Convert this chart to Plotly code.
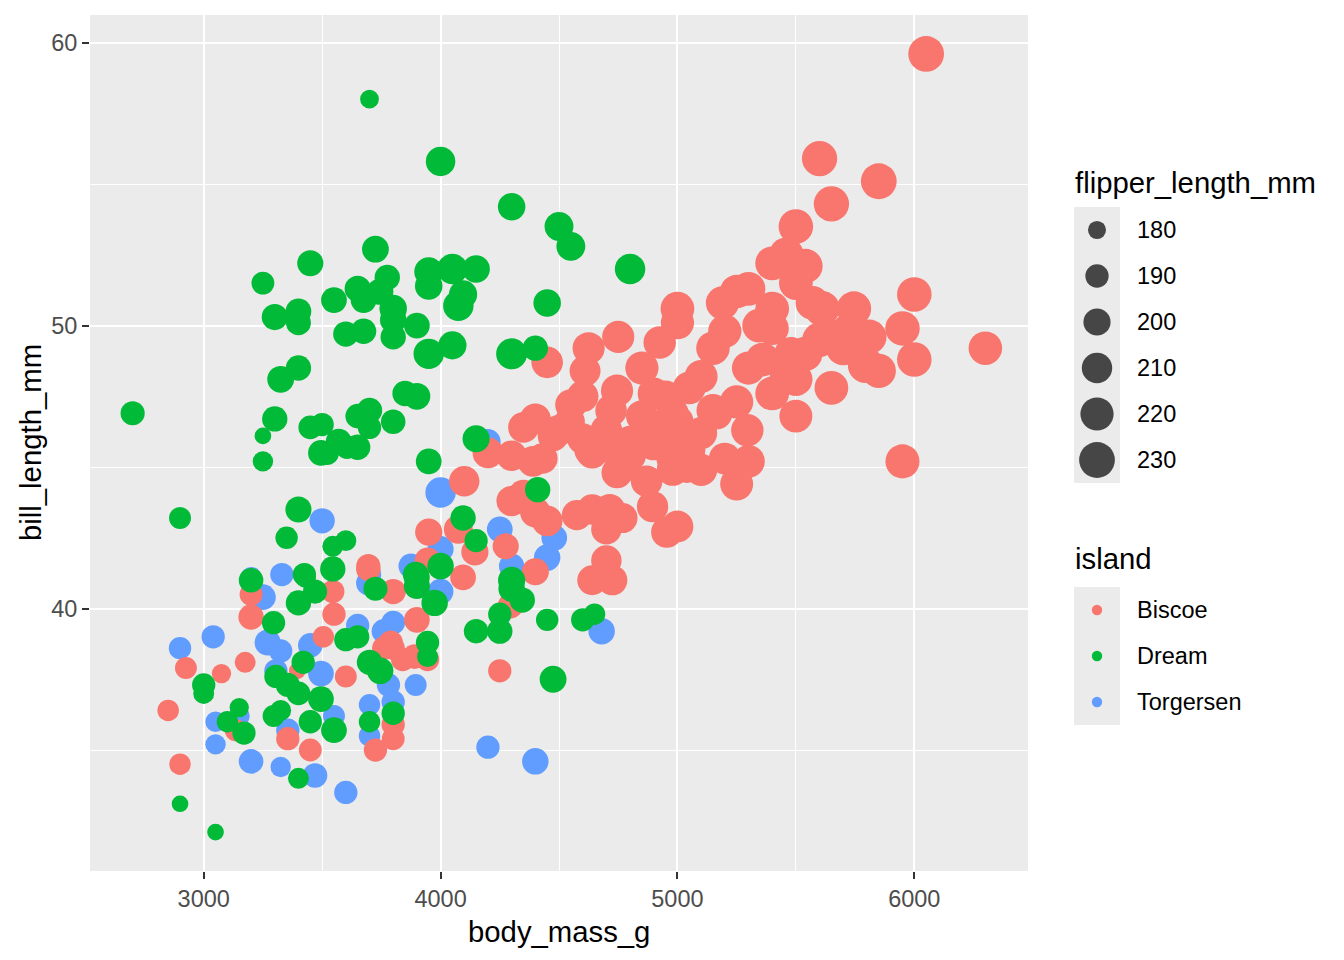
import numpy as np
import plotly.graph_objects as go

# penguins: body_mass_g, bill_length_mm, flipper_length_mm
biscoe_mass = [3950, 4075, 4145, 4275, 4400, 3945, 3695, 4095, 3800, 3900, 3790, 3890, 3545, 3695,
               3200, 3200, 3945, 3800, 3840, 3760, 3600, 3550, 3505, 2925, 3075, 3175, 3395, 3800,
               3800, 3725, 3355, 3450, 3135, 2850, 2900, 4250, 4295, 4100,
               4200, 4300, 4390, 4350, 4400, 4475, 4430, 4300, 4350, 4400, 4450, 4500, 4545, 4600,
               4640, 4755, 4980, 4450, 4630, 4745, 4800, 4745, 4800, 4870, 4895, 4955, 5000, 4575,
               4640, 4714, 4768, 4700, 4700, 4640, 4725, 4750, 4850, 4925, 4625, 4610, 4600, 4745,
               4720, 4950, 4900, 4850, 4880, 4980, 5000, 5100, 5010, 5150, 5100, 5040, 4980, 5300,
               5200, 5250, 5295, 5250, 5165, 5150, 5100, 5300, 5360, 5500, 5400, 5650, 5500, 5950,
               5540, 5640, 5725, 5810, 5795, 5850, 5950, 6000, 6300, 5345, 5400, 5000, 5000, 5190,
               5250, 5300, 5400, 5570, 5610, 5745, 6000, 5400, 5460, 5540, 5500, 5500, 5650, 5850,
               5600, 6050, 5480, 5460, 5200, 5600, 5700, 4900, 5050, 4700, 5050, 4550]
biscoe_bill = [42.7, 42.8, 42.0, 42.2, 41.3, 41.7, 41.5, 41.1, 40.6, 39.6, 38.8, 38.3, 40.6, 41.4,
               40.5, 39.7, 38.2, 38.6, 38.2, 38.6, 37.6, 39.8, 39.0, 37.9, 37.7, 38.1, 37.8, 35.9,
               35.4, 35.0, 35.4, 35.0, 35.7, 36.4, 34.5, 37.8, 40.1, 44.5,
               45.5, 45.4, 45.2, 46.4, 46.7, 46.1, 45.3, 43.8, 44.0, 43.4, 43.1, 46.3, 46.6, 46.0,
               45.5, 44.9, 44.9, 48.7, 45.6, 45.5, 45.4, 44.8, 45.9, 44.5, 43.6, 42.7, 42.9, 43.3,
               43.5, 43.5, 43.2, 42.8, 41.7, 41.0, 41.0, 49.6, 48.5, 49.4, 49.2, 48.4, 47.5, 47.7,
               47.0, 47.5, 47.6, 46.8, 46.3, 46.9, 46.6, 46.2, 46.0, 47.0, 44.9, 45.0, 45.3, 45.2,
               45.3, 44.4, 46.3, 47.3, 46.9, 49.2, 48.2, 48.5, 48.8, 48.1, 47.6, 47.8, 46.8, 45.2,
               49.0, 49.6, 49.8, 49.6, 48.6, 48.4, 49.9, 48.8, 49.2, 50.0, 49.9, 50.6, 50.1, 50.8,
               51.2, 51.3, 50.6, 50.8, 50.6, 50.6, 51.1, 52.2, 52.5, 52.1, 51.5, 53.5, 54.3, 55.1,
               55.9, 59.6, 49.0, 48.3, 49.8, 49.5, 49.2, 45.8, 45.6, 46.3, 47.8, 47.2]
biscoe_flipper = [200, 205, 200, 197, 200, 196, 192, 196, 195, 196, 192, 193, 190, 193,
                  189, 195, 190, 190, 190, 190, 187, 190, 186, 187, 182, 185, 178, 190,
                  189, 190, 190, 189, 187, 186, 186, 190, 195, 210,
                  211, 210, 211, 211, 212, 211, 210, 210, 212, 210, 211, 212, 210, 212,
                  213, 212, 215, 214, 212, 211, 214, 212, 214, 214, 213, 213, 215, 209,
                  210, 212, 209, 210, 210, 208, 209, 216, 220, 217, 216, 212, 214, 216,
                  214, 215, 216, 215, 217, 215, 217, 216, 218, 219, 216, 215, 217, 218,
                  215, 219, 217, 220, 216, 221, 219, 220, 222, 220, 222, 222, 219, 223,
                  224, 228, 229, 225, 230, 224, 225, 225, 221, 222, 220, 222, 220, 220,
                  221, 222, 222, 222, 228, 225, 225, 222, 225, 225, 222, 225, 228, 230,
                  228, 230, 221, 220, 220, 225, 224, 215, 216, 214, 218, 213]

dream_mass = [3700, 4000, 4300, 4500, 4550, 4800, 3725, 3450, 3250, 3950, 4050, 4150, 3950, 3775,
              3650, 3745, 3675, 3550, 3800, 4075, 4095, 4450, 3300, 3400, 3400, 3800, 3800, 3600,
              3675, 3900, 3950, 4050, 4300, 4400, 3400, 3325, 3850, 3900, 2700, 3300, 3250, 3250,
              3450, 3500, 3650, 3700, 3700, 3495, 3520, 3570, 3605, 3650, 3800, 3950, 4150, 4410,
              4095, 4150, 4000, 3895, 3545, 3425, 3200, 3350, 3400, 3545, 3600, 2900, 4300, 4300,
              4345, 4250, 4250, 4150, 4450, 4600, 4650, 3900, 3900, 3975, 3945, 3945, 3295, 3430,
              3470, 3400, 3725, 3600, 3650, 3000, 3000, 3420, 3305, 3355, 3400, 3495, 3325, 3295,
              3450, 3550, 3150, 3170, 3700, 3745, 3700, 3800, 2900, 3050, 3400, 4475, 3100]
dream_bill = [58.0, 55.8, 54.2, 53.5, 52.8, 52.0, 52.7, 52.2, 51.5, 51.9, 52.0, 52.0, 51.4, 51.7,
              51.3, 51.2, 50.9, 50.9, 50.6, 50.7, 51.1, 50.8, 50.3, 50.5, 50.1, 50.2, 49.6, 49.7,
              49.8, 50.0, 49.0, 49.3, 49.0, 49.2, 48.5, 48.1, 47.6, 47.5, 46.9, 46.7, 46.1, 45.2,
              46.4, 46.5, 46.8, 47.0, 46.4, 45.5, 45.5, 45.9, 45.7, 45.7, 46.6, 45.2, 46.0, 44.2,
              43.2, 42.4, 41.5, 41.2, 41.4, 41.2, 41.0, 42.5, 43.5, 42.2, 42.4, 43.2, 41.0, 40.7,
              40.3, 39.8, 39.2, 39.2, 39.6, 39.6, 39.8, 41.1, 40.8, 40.2, 38.8, 38.3, 39.5, 41.1,
              40.6, 40.2, 40.7, 38.9, 39.0, 37.3, 37.0, 38.1, 37.6, 37.3, 37.0, 36.8, 36.4, 36.2,
              36.0, 35.7, 36.5, 35.6, 38.1, 37.8, 36.0, 36.3, 33.1, 32.1, 34.0, 37.5, 36.0]
dream_flipper = [181, 207, 201, 205, 205, 210, 199, 197, 189, 205, 210, 201, 201, 195,
                 197, 198, 196, 196, 201, 210, 203, 201, 197, 196, 194, 198, 195, 195,
                 195, 196, 210, 203, 212, 195, 195, 199, 195, 199, 192, 195, 178, 184,
                 191, 190, 193, 195, 190, 196, 192, 196, 190, 195, 193, 196, 200, 195,
                 195, 190, 198, 196, 195, 190, 193, 188, 197, 185, 185, 187, 200, 198,
                 195, 190, 195, 193, 188, 190, 186, 196, 197, 198, 190, 185, 190, 185,
                 192, 195, 192, 190, 190, 190, 185, 190, 190, 192, 191, 196, 185, 187,
                 190, 196, 182, 190, 195, 198, 186, 190, 178, 178, 185, 199, 186]

torgersen_mass = [4200, 4000, 4250, 4300, 4450, 4480, 4000, 3875, 3700, 3330, 3200, 3500, 4000, 3800,
                  3250, 3695, 3650, 3760, 3450, 3270, 3325, 3040, 2900, 3305, 3495, 3780, 3800, 3700,
                  3700, 3895, 3550, 3355, 3150, 3050, 3050, 3200, 3325, 3470, 3600, 4200, 4400, 4680]
torgersen_bill = [45.9, 44.1, 42.8, 41.5, 41.8, 42.5, 42.1, 41.5, 41.2, 41.2, 41.1, 43.1, 40.6, 39.5,
                  40.4, 40.9, 39.4, 39.2, 38.7, 38.8, 38.5, 39.0, 38.6, 37.8, 37.7, 37.3, 36.7, 36.6,
                  35.5, 37.3, 36.2, 35.7, 36.2, 36.0, 35.2, 34.6, 34.4, 34.1, 33.5, 35.1, 34.6, 39.2]
torgersen_flipper = [195, 210, 196, 195, 198, 196, 197, 194, 190, 190, 185, 195, 196, 191,
                     196, 193, 190, 192, 193, 197, 190, 190, 188, 190, 196, 190, 190, 186,
                     186, 187, 187, 190, 185, 184, 184, 193, 184, 193, 190, 190, 198, 198]

size_breaks = [180, 190, 200, 210, 220, 230]
islands = ["Biscoe", "Dream", "Torgersen"]
island_colors = {"Biscoe": "#F8766D", "Dream": "#00BA38", "Torgersen": "#619CFF"}
FLIP_LIM = (172, 231)   # range of flipper_length_mm in the full data set

FONT = "Liberation Sans"


def point_diameter(f):
    # ggplot area scale, size range 1..6, turned into pixels at 192 dpi
    t = np.sqrt((np.asarray(f, float) - FLIP_LIM[0]) / (FLIP_LIM[1] - FLIP_LIM[0]))
    size = 1 + 5 * t
    return 2.0 * (size * 2.845 + 0.945)


data = {
    "Biscoe": (biscoe_mass, biscoe_bill, biscoe_flipper),
    "Dream": (dream_mass, dream_bill, dream_flipper),
    "Torgersen": (torgersen_mass, torgersen_bill, torgersen_flipper),
}

fig = go.Figure()

# draw order: Torgersen, Biscoe, Dream (chinstraps sit on top in the original)
for isl in ["Torgersen", "Biscoe", "Dream"]:
    m, b, f = data[isl]
    fig.add_trace(go.Scatter(
        x=m, y=b, mode="markers", name=isl, showlegend=False,
        marker=dict(color=island_colors[isl], size=point_diameter(f),
                    sizemode="diameter", line=dict(width=0), opacity=1),
        hoverinfo="skip",
    ))

# ---- hand-built ggplot style legends on a hidden pixel-unit axis pair ----
OFF = 8                       # page body margin in the screenshot
W, H = 1344, 960
L, T = 90 - OFF, 15 - OFF
B = H - (871 - OFF)
R = 10
pw = W - L - R
ph = H - T - B
main_frac = (1028 - OFF - L) / pw
x2_dom0 = 0.76
x2_range = [L + x2_dom0 * pw, W - R]


def px(v):
    # reference pixel -> figure pixel
    return v - OFF


key_x0, key_w, key_h = px(1074), 46, 46
key_cx = key_x0 + key_w / 2
label_x = px(1135)
size_top = px(207)
isl_top = px(587)

size_y = [size_top + (i + 0.5) * key_h for i in range(len(size_breaks))]
isl_y = [isl_top + (i + 0.5) * key_h for i in range(len(islands))]

fig.add_trace(go.Scatter(
    x=[key_cx] * len(size_breaks), y=size_y, mode="markers", showlegend=False,
    marker=dict(color="black", size=point_diameter(size_breaks), sizemode="diameter",
                line=dict(width=0)),
    xaxis="x2", yaxis="y2", hoverinfo="skip",
))
fig.add_trace(go.Scatter(
    x=[key_cx] * len(islands), y=isl_y, mode="markers", showlegend=False,
    marker=dict(color=[island_colors[i] for i in islands], size=2.0 * (1.5 * 2.845 + 0.945),
                line=dict(width=0)),
    xaxis="x2", yaxis="y2", hoverinfo="skip",
))

shapes = [
    dict(type="rect", xref="x domain", yref="y domain", x0=0, x1=1, y0=0, y1=1,
         fillcolor="#EBEBEB", line=dict(width=0), layer="below"),
    dict(type="rect", xref="x2", yref="y2", x0=key_x0, x1=key_x0 + key_w,
         y0=size_top, y1=size_top + key_h * len(size_breaks),
         fillcolor="#EBEBEB", line=dict(width=0), layer="below"),
    dict(type="rect", xref="x2", yref="y2", x0=key_x0, x1=key_x0 + key_w,
         y0=isl_top, y1=isl_top + key_h * len(islands),
         fillcolor="#EBEBEB", line=dict(width=0), layer="below"),
]

annotations = [
    dict(text="flipper_length_mm", x=key_x0 - 1, y=px(182), xref="x2", yref="y2",
         xanchor="left", yanchor="middle", showarrow=False,
         font=dict(family=FONT, size=29.3, color="black")),
    dict(text="island", x=key_x0 - 1, y=px(558), xref="x2", yref="y2",
         xanchor="left", yanchor="middle", showarrow=False,
         font=dict(family=FONT, size=29.3, color="black")),
    dict(text="body_mass_g", x=main_frac / 2, y=(871 - 931) / ph,
         xref="paper", yref="paper", xanchor="center", yanchor="middle", showarrow=False,
         font=dict(family=FONT, size=29.3, color="black")),
    dict(text="bill_length_mm", x=(px(30) - L) / pw, y=(871 - 443) / ph,
         xref="paper", yref="paper", xanchor="center", yanchor="middle", showarrow=False,
         textangle=-90, font=dict(family=FONT, size=29.3, color="black")),
]
for v, yy in zip(size_breaks, size_y):
    annotations.append(dict(text=str(v), x=label_x, y=yy, xref="x2", yref="y2",
                            xanchor="left", yanchor="middle", showarrow=False,
                            font=dict(family=FONT, size=23.5, color="black")))
for isl, yy in zip(islands, isl_y):
    annotations.append(dict(text=isl, x=label_x, y=yy, xref="x2", yref="y2",
                            xanchor="left", yanchor="middle", showarrow=False,
                            font=dict(family=FONT, size=23.5, color="black")))

axis_common = dict(
    showline=False, zeroline=False, ticks="outside", ticklen=7, tickwidth=2.4,
    tickcolor="#333333", gridcolor="white", gridwidth=2.4,
    tickfont=dict(family=FONT, size=23.5, color="#4D4D4D"),
    showgrid=True, fixedrange=True,
)

fig.update_layout(
    width=W, height=H,
    margin=dict(l=L, r=R, t=T, b=B),
    paper_bgcolor="white", plot_bgcolor="white",
    xaxis=dict(domain=[0, main_frac], range=[2520, 6480], tick0=0, dtick=1000,
               minor=dict(dtick=500, showgrid=True, gridcolor="white", gridwidth=1.2),
               **axis_common),
    yaxis=dict(range=[30.725, 60.975], tick0=0, dtick=10,
               minor=dict(dtick=5, showgrid=True, gridcolor="white", gridwidth=1.2),
               **axis_common),
    xaxis2=dict(domain=[x2_dom0, 1], range=x2_range, visible=False, anchor="y2",
                fixedrange=True),
    yaxis2=dict(domain=[0, 1], range=[H - B, T], visible=False, anchor="x2",
                fixedrange=True),
    shapes=shapes,
    annotations=annotations,
    showlegend=False,
)

fig.write_html("out.html")
